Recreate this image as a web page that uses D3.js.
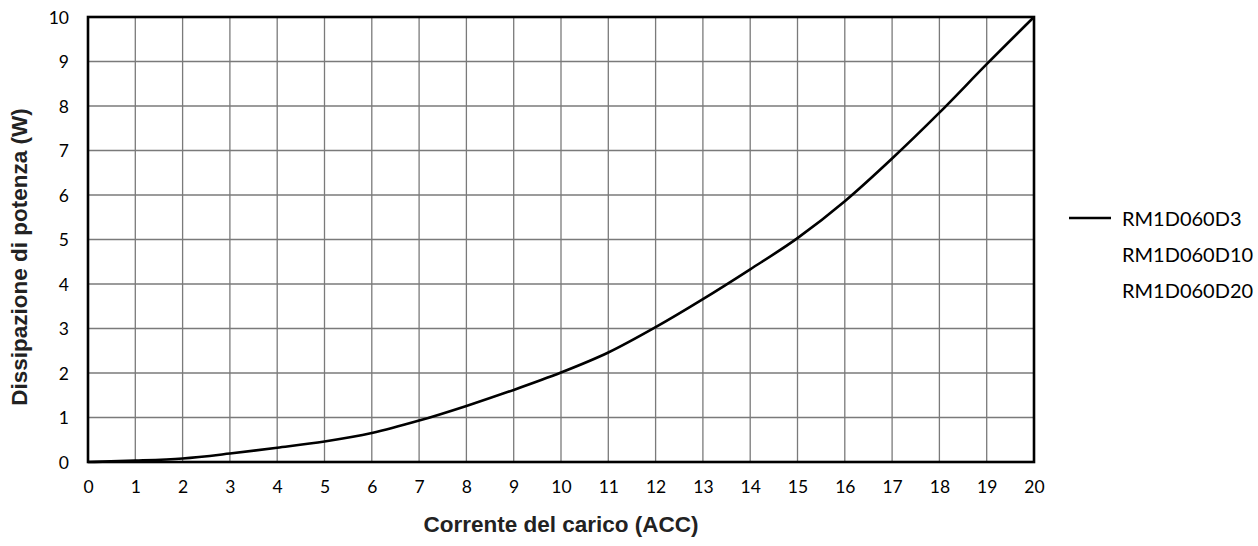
<!DOCTYPE html>
<html>
<head>
<meta charset="utf-8">
<script src="https://cdn.jsdelivr.net/npm/d3@7/dist/d3.min.js"></script>
<style>
  body { margin: 0; background: #fff; }
  svg { display: block; }
</style>
</head>
<body>
<svg id="chart" width="1258" height="546"></svg>
<script>
const currents = [0,1,2,3,4,5,6,7,8,9,10,11,12,13,14,15,16,17,18,19,20];
const dissipation = [0,0.03,0.08,0.19,0.32,0.46,0.65,0.93,1.26,1.62,2.01,2.46,3.03,3.66,4.33,5.03,5.86,6.82,7.85,8.94,10];
const xTicks = [0,1,2,3,4,5,6,7,8,9,10,11,12,13,14,15,16,17,18,19,20];
const yTicks = [0,1,2,3,4,5,6,7,8,9,10];
const legendNames = ["RM1D060D3","RM1D060D10","RM1D060D20"];
const legendHasLine = [true,false,false];
const xTitle = "Corrente del carico (ACC)";
const yTitle = "Dissipazione di potenza (W)";

const svg = d3.select("#chart");
const L = 88, R = 1034, T = 17, B = 462;
const x = d3.scaleLinear().domain([0,20]).range([L,R]);
const y = d3.scaleLinear().domain([0,10]).range([B,T]);

// grid
const g = svg.append("g");
g.selectAll("line.v").data(xTicks.slice(1,-1)).enter().append("line")
  .attr("x1", d=>x(d)).attr("x2", d=>x(d)).attr("y1", T).attr("y2", B)
  .attr("stroke", "#7a7a7a").attr("stroke-width", 1.3);
g.selectAll("line.h").data(yTicks.slice(1,-1)).enter().append("line")
  .attr("y1", d=>y(d)).attr("y2", d=>y(d)).attr("x1", L).attr("x2", R)
  .attr("stroke", "#7a7a7a").attr("stroke-width", 1.3);

// axes labels via d3 axes
const xAxis = d3.axisBottom(x).tickValues(xTicks).tickSize(0).tickPadding(0).tickFormat(d3.format("d"));
const yAxis = d3.axisLeft(y).tickValues(yTicks).tickSize(0).tickPadding(0).tickFormat(d3.format("d"));
const gx = svg.append("g").attr("transform", `translate(0,${B})`).call(xAxis);
gx.select(".domain").remove();
gx.selectAll("text").attr("dy", null).attr("y", 31)
  .attr("font-family", "Lato, 'Open Sans', sans-serif").attr("font-size", 17.5).attr("fill", "#000");
const gy = svg.append("g").attr("transform", `translate(${L},0)`).call(yAxis);
gy.select(".domain").remove();
gy.selectAll("text").attr("dy", "0.35em").attr("x", -19)
  .attr("font-family", "Lato, 'Open Sans', sans-serif").attr("font-size", 17.5).attr("fill", "#000");

// curve
const line = d3.line().x((d,i)=>x(currents[i])).y(d=>y(d)).curve(d3.curveMonotoneX);
svg.append("path").datum(dissipation).attr("d", line)
  .attr("fill", "none").attr("stroke", "#000").attr("stroke-width", 2.6)
  .attr("stroke-linejoin", "round");

// border
svg.append("rect").attr("x", L).attr("y", T).attr("width", R-L).attr("height", B-T)
  .attr("fill", "none").attr("stroke", "#000").attr("stroke-width", 2.6);

// titles
svg.append("text").attr("x", 561).attr("y", 532).attr("text-anchor", "middle")
  .attr("font-family", "'Liberation Sans', Arial, sans-serif").attr("font-weight", "bold")
  .attr("font-size", 22.5).attr("fill", "#222").text(xTitle);
svg.append("text").attr("transform", "translate(27,257) rotate(-90)").attr("text-anchor", "middle")
  .attr("font-family", "'Liberation Sans', Arial, sans-serif").attr("font-weight", "bold")
  .attr("font-size", 22.5).attr("fill", "#222").text(yTitle);

// legend
const lg = svg.append("g");
legendNames.forEach((name, i) => {
  const cy = 219 + i*36;
  if (legendHasLine[i]) {
    lg.append("line").attr("x1", 1069).attr("x2", 1111).attr("y1", cy-1).attr("y2", cy-1)
      .attr("stroke", "#000").attr("stroke-width", 2.6);
  }
  lg.append("text").attr("x", 1122).attr("y", cy).attr("dy", "0.35em")
    .attr("font-family", "Lato, 'Open Sans', sans-serif").attr("font-size", 20)
    .attr("fill", "#000").text(name);
});
</script>
</body>
</html>
